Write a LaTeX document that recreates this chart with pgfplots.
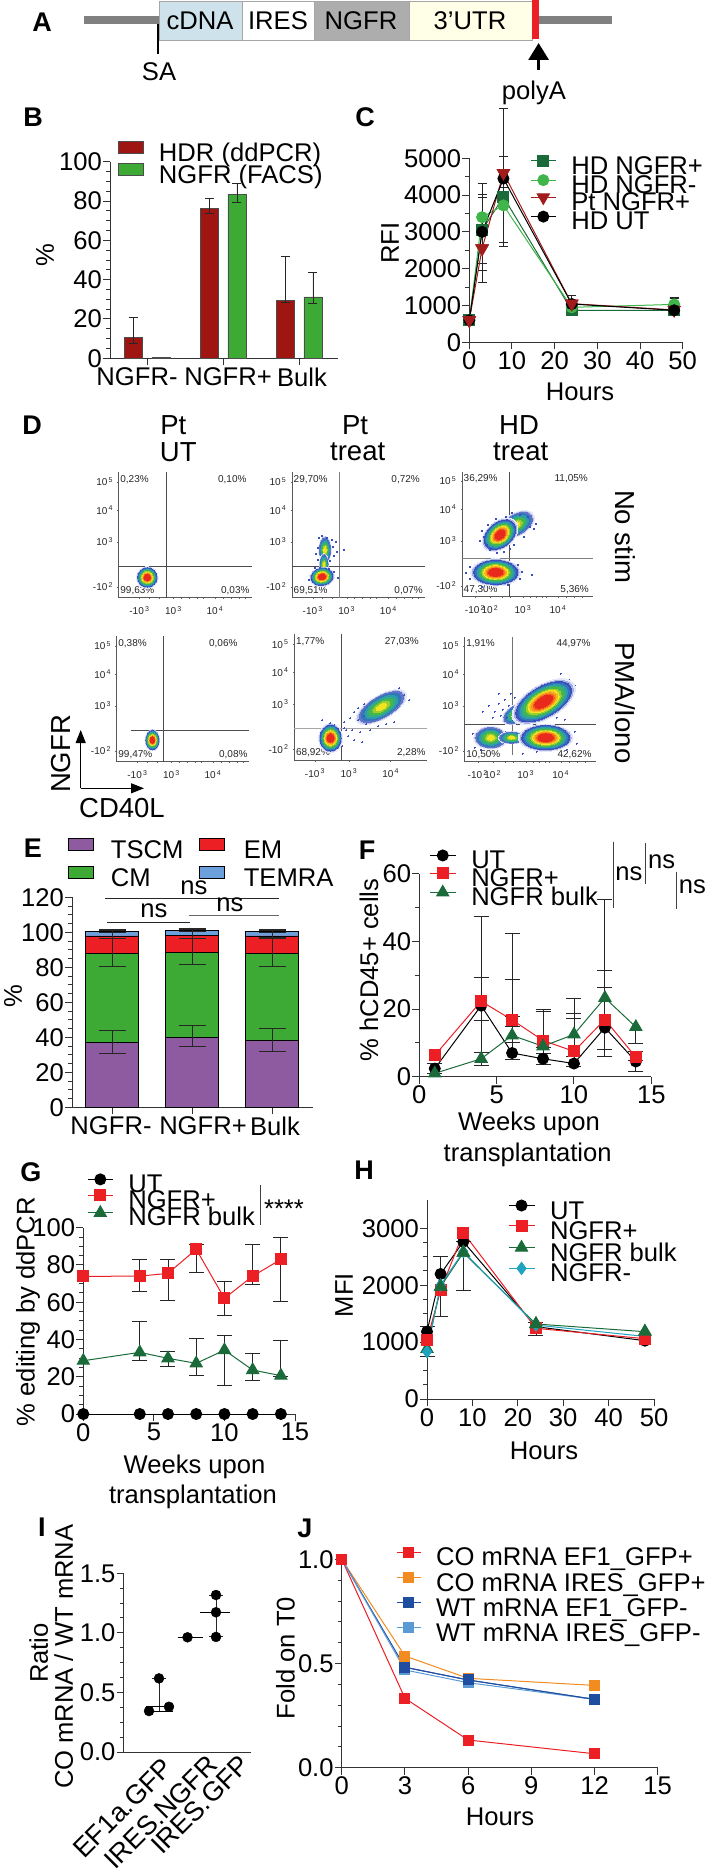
\documentclass[border=0pt]{standalone}
\usepackage{fontspec}
\setmainfont{Liberation Sans}
\usepackage{pgfplots}
\pgfplotsset{compat=1.18}
\usetikzlibrary{arrows.meta}

\definecolor{axc}{HTML}{333333}
\definecolor{hdr}{HTML}{9F1512}
\definecolor{fac}{HTML}{3DAA35}
\definecolor{dgr}{HTML}{1B6B3A}
\definecolor{lgr}{HTML}{3FB54A}
\definecolor{drd}{HTML}{A31C1C}
\definecolor{red1}{HTML}{EC1F25}
\definecolor{pur}{HTML}{8E5BA0}
\definecolor{blu}{HTML}{6CA0DC}
\definecolor{teal1}{HTML}{1FA3BF}
\definecolor{org}{HTML}{F28C21}
\definecolor{dbl}{HTML}{1F4EA1}
\definecolor{lbl}{HTML}{5B9BD5}
\definecolor{c0}{HTML}{E6EAF8}
\definecolor{c1}{HTML}{3A50BE}
\definecolor{c2}{HTML}{2A9CB0}
\definecolor{c3}{HTML}{45B84A}
\definecolor{c4}{HTML}{F2E41E}
\definecolor{c5}{HTML}{F7901E}
\definecolor{c6}{HTML}{E8291C}

\newcommand\fs{\fontsize{25.6}{28}\selectfont}
\newcommand\fb{\fontsize{27.5}{30}\selectfont}
\newcommand\flowf{\fontsize{10}{11}\selectfont}
\newcommand\lab[4][]{\node[inner sep=0pt,font=\fs,#1] at (#2pt,-#3pt) {#4};}
\newcommand\letter[3]{\node[inner sep=0pt,font=\fontsize{27}{28}\selectfont\bfseries] at (#1pt,-#2pt) {#3};}
\newcommand\ten[1]{10\textsuperscript{\,#1}}

\pgfplotsset{
  panel/.style={scale only axis, axis lines=left, axis line style={-,line width=1pt,draw=axc},
    clip=false, tick align=outside, major tick length=7pt, minor tick length=4pt,
    every tick/.style={line width=1pt,draw=axc}, minor tick style={line width=1pt,draw=axc},
    tick label style={font=\fs,inner sep=1pt},
    /pgf/number format/assume math mode=true, /pgf/number format/1000 sep={},
    x tick label style={yshift=-1pt},
    legend cell align=left},
  ebars/.style={error bars/y dir=both, error bars/y explicit,
    error bars/error bar style={line width=.9pt,draw=black!85},
    error bars/error mark options={rotate=90,mark size=#1,line width=.9pt,draw=black!85}},
  lgd/.style n args={4}{legend style={at={(#1)},anchor=north west,draw=none,fill=none,inner sep=0pt,
    font=\fs,row sep=#4,column sep=0pt,
    nodes={inner sep=0pt,text height=#2,text depth=#3},
    /tikz/column 1/.style={column sep=15pt}}},
  keyline/.style={legend image code/.code={
    \draw[mark repeat=2,mark phase=2,yshift=9pt,##1] plot coordinates {(0pt,0pt)(#1/2,0pt)(#1,0pt)};}},
  keybox/.style={legend image code/.code={
    \draw[yshift=9pt,##1] (0pt,-6pt) rectangle (25pt,6pt);}},
  sq/.style={color=#1,line width=1pt,mark=square*,mark size=5.5pt,mark options={fill=#1,draw=#1}},
  ci/.style={color=#1,line width=1pt,mark=*,mark size=5.5pt,mark options={fill=#1,draw=#1}},
  tr/.style={color=#1,line width=1pt,mark=triangle*,mark size=7pt,mark options={fill=#1,draw=#1}},
  td/.style={color=#1,line width=1pt,mark=triangle*,mark size=7pt,mark options={fill=#1,draw=#1,rotate=180}},
  di/.style={color=#1,line width=1pt,mark=diamond*,mark size=6pt,mark options={fill=#1,draw=#1}},
  flowax/.style={scale only axis, axis lines=left, axis line style={-,line width=.7pt,draw=black!65},
    clip=false, tick align=outside, major tick length=1.5pt, every tick/.style={line width=.4pt,draw=black!60},
    tick label style={font=\flowf,inner sep=1pt,text=black!85},
    x tick label style={yshift=-6pt}, y tick label style={xshift=-3pt}, minor tick length=1pt},
  gate/.style={draw=black!70,line width=.8pt,mark=none},
}

% one cell cluster: x, y, rx, ry, rotation, in pixels of the panel
\newcommand\lay[7]{\addplot[only marks,mark=*,mark size=1pt,forget plot,
  mark options={rotate=#5,xscale=#3*#6,yscale=#4*#6,line width=0pt,draw=#7,fill=#7}] coordinates {(#1,#2)};}
\newcommand\blob[5]{%
  \lay{#1}{#2}{#3}{#4}{#5}{1.14}{c0}%
  \lay{#1}{#2}{#3}{#4}{#5}{1.06}{c1!45!white}%
  \lay{#1}{#2}{#3}{#4}{#5}{1.0}{c1}%
  \lay{#1}{#2}{#3}{#4}{#5}{.92}{c1!50!c2}%
  \lay{#1}{#2}{#3}{#4}{#5}{.85}{c2}%
  \lay{#1}{#2}{#3}{#4}{#5}{.78}{c2!50!c3}%
  \lay{#1}{#2}{#3}{#4}{#5}{.71}{c3}%
  \lay{#1}{#2}{#3}{#4}{#5}{.63}{c3!50!c4}%
  \lay{#1}{#2}{#3}{#4}{#5}{.56}{c4}%
  \lay{#1}{#2}{#3}{#4}{#5}{.5}{c4!50!c5}%
  \lay{#1}{#2}{#3}{#4}{#5}{.44}{c5}%
  \lay{#1}{#2}{#3}{#4}{#5}{.38}{c5!50!c6}%
  \lay{#1}{#2}{#3}{#4}{#5}{.32}{c6}}
\newcommand\bloby[5]{%
  \lay{#1}{#2}{#3}{#4}{#5}{1.14}{c0}%
  \lay{#1}{#2}{#3}{#4}{#5}{1.06}{c1!35!white}%
  \lay{#1}{#2}{#3}{#4}{#5}{1.0}{c1!80!white}%
  \lay{#1}{#2}{#3}{#4}{#5}{.88}{c1!50!c2}%
  \lay{#1}{#2}{#3}{#4}{#5}{.76}{c2}%
  \lay{#1}{#2}{#3}{#4}{#5}{.64}{c2!50!c3}%
  \lay{#1}{#2}{#3}{#4}{#5}{.52}{c3}%
  \lay{#1}{#2}{#3}{#4}{#5}{.38}{c3!50!c4}%
  \lay{#1}{#2}{#3}{#4}{#5}{.24}{c4}}
\newcommand\qtext[6]{%
  \node[font=\flowf,inner sep=0pt,anchor=west,text=black!85] at (axis cs:1.5,118) {#1};
  \node[font=\flowf,inner sep=0pt,anchor=east,text=black!85] at (axis cs:#5,118) {#2};
  \node[font=\flowf,inner sep=0pt,anchor=west,text=black!85] at (axis cs:1.5,7.5) {#3};
  \node[font=\flowf,inner sep=0pt,anchor=east,text=black!85] at (axis cs:#6,7.5) {#4};}
\newcommand\speck[1]{\addplot[only marks,mark=*,mark size=.45pt,forget plot,color=c1,mark options={line width=0pt,draw=c1,fill=c1}] coordinates {#1};}

\begin{document}
\begin{tikzpicture}
\useasboundingbox (0pt,0pt) rectangle (709pt,-1876pt);

% ---- A: construct
\begin{scope}[x=1pt,y=-1pt]
\draw[line width=7.5pt,draw=black!50] (84,20) -- (159,20) (539,20) -- (612,20);
\draw[draw=black!35,line width=.8pt,fill=cyan!15!white!92!black] (159,1) rectangle (242,40.7);
\draw[draw=black!35,line width=.8pt,fill=white] (242,1) rectangle (314,40.7);
\draw[draw=black!35,line width=.8pt,fill=black!32] (314,1) rectangle (409,40.7);
\draw[draw=black!35,line width=.8pt,fill=yellow!10] (409,1) rectangle (532,40.7);
\fill[red1] (532,0) rectangle (539,39);
\draw[line width=1.6pt] (158,24) -- (158,54);
\draw[line width=3pt,-{Triangle[width=20pt,length=17pt]}] (538.6,70) -- (538.6,43);
\end{scope}
\lab{200}{21}{cDNA}\lab{278}{21}{IRES}\lab{361}{21}{NGFR}\lab{470}{21}{3’UTR}
\lab{159}{72}{SA}\lab{534}{93}{polyA}
\letter{42}{22}{A}\letter{33}{117}{B}\letter{365}{117}{C}\letter{32}{425}{D}\letter{33}{848}{E}
\letter{367}{850}{F}\letter{31}{1172}{G}\letter{364}{1170}{H}\letter{42}{1527}{I}\letter{305}{1528}{J}

% ---- B
\begin{axis}[panel,at={(110pt,-358.3pt)},anchor=south west,width=228pt,height=196.6pt,
  xmin=.513,xmax=3.513,ymin=0,ymax=100,ytick={0,20,...,100},minor y tick num=3,
  xtick={1,2,3},xticklabels={NGFR-\hspace*{20pt},\hspace*{10pt}NGFR+,\hspace*{6pt}Bulk},
  lgd={.035,1.105}{15pt}{6pt}{-4pt},keybox,ebars=4.5pt]
\addplot[ybar,bar width=18pt,bar shift=0pt,fill=hdr,draw=black!70,line width=.8pt] coordinates {
  (.816,10.5) += (0,10.3) -= (0,3)
  (1.816,76.3) += (0,5.2) -= (0,2.8)
  (2.816,29.3) += (0,22.7) -= (0,.8)};
\addplot[ybar,bar width=18pt,bar shift=0pt,fill=fac,draw=black!70,line width=.8pt] coordinates {
  (1.184,.5) (2.184,83.3) += (0,5.5) -= (0,3.8)
  (3.184,31.2) += (0,12.7) -= (0,3.5)};
\legend{HDR (ddPCR),NGFR (FACS)}
\end{axis}
\lab[rotate=90]{45}{255}{\%}

% ---- C
\begin{axis}[panel,at={(469.3pt,-342.3pt)},anchor=south west,width=213.4pt,height=184pt,
  xmin=0,xmax=50,ymin=0,ymax=5000,xtick={0,10,...,50},ytick={0,1000,...,5000},minor y tick num=1,
  lgd={.285,1.017}{14.5pt}{6pt}{-5.5pt},keyline=25pt,ebars=4.5pt]
\addplot[sq=dgr] coordinates {(0,600) (3,3050) += (0,970) -= (0,1090) (8,3950) += (0,1090) -= (0,1250)
  (24,870) += (0,200) -= (0,50) (48,870) += (0,330) -= (0,50)};
\addplot[ci=lgr] coordinates {(0,600) (3,3400) += (0,530) -= (0,1245) (8,3720) += (0,500) -= (0,1000)
  (24,950) += (0,200) -= (0,50) (48,1030) += (0,180) -= (0,50)};
\addplot[td=drd] coordinates {(0,600) (3,2550) += (0,1470) -= (0,930) (8,4600) += (0,440) -= (0,1880)
  (24,1050) += (0,216) -= (0,50) (48,880) += (0,300) -= (0,50)};
\addplot[ci=black] coordinates {(0,600) (3,3000) += (0,1320) -= (0,1380) (8,4450) += (0,1900) -= (0,1850)
  (24,1040) += (0,220) -= (0,50) (48,870) += (0,340) -= (0,50)};
\addplot[td=drd,only marks,forget plot] coordinates {(0,600)(3,2550)(8,4600)(24,1050)};
\legend{HD NGFR+,HD NGFR-,Pt NGFR+,HD UT}
\end{axis}
\lab[rotate=90]{390}{243}{RFI}\lab{580}{392}{Hours}

% ---- D: flow panels (axis units are picture pixels from the corner of each panel)
\lab[font=\fb]{173.3}{425}{Pt}\lab[font=\fb]{178.3}{452}{UT}
\lab[font=\fb]{355}{425}{Pt}\lab[font=\fb]{357.7}{452}{treat}
\lab[font=\fb]{519}{425}{HD}\lab[font=\fb]{520.7}{452}{treat}
\lab[font=\fb,rotate=-90]{625.7}{536.7}{No stim}
\lab[font=\fb,rotate=-90]{625.7}{703}{PMA/Iono}
\lab[font=\fb,rotate=90]{61}{754}{NGFR}\lab[font=\fb]{122}{808}{CD40L}
\begin{scope}[x=1pt,y=-1pt]
\draw[line width=1.1pt,-{Triangle[width=10pt,length=13pt]}] (80.7,788.3) -- (80.7,730);
\draw[line width=1.1pt,-{Triangle[width=10pt,length=13pt]}] (80.7,788.3) -- (144,788.3);
\end{scope}

\begin{axis}[flowax,at={(118.7pt,-597.7pt)},anchor=south west,width=133pt,height=126pt,
  xmin=0,xmax=133,ymin=0,ymax=126,xtick={20.7,54.7,96.3},xticklabels={-\ten{3},\ten{3},\ten{4}},
  ytick={11,56,87.7,116},yticklabels={-\ten{2},\ten{3},\ten{4},\ten{5}},
  minor xtick={30,40,62,70,78,84,104,112,120,126}]
\blob{28.6}{20.3}{9.6}{9.6}{0}
\addplot[gate] coordinates {(47.3,0)(47.3,126)};
\addplot[gate] coordinates {(0,31.7)(133,31.7)};
\qtext{0,23\%}{0,10\%}{99,63\%}{0,03\%}{128}{131}
\end{axis}

\begin{axis}[flowax,at={(292pt,-597.7pt)},anchor=south west,width=133pt,height=126pt,
  xmin=0,xmax=133,ymin=0,ymax=126,xtick={20.7,54.7,96.3},xticklabels={-\ten{3},\ten{3},\ten{4}},
  ytick={11,56,87.7,116},yticklabels={-\ten{2},\ten{3},\ten{4},\ten{5}},
  minor xtick={30,40,62,70,78,84,104,112,120,126}]
\bloby{33}{48}{5.5}{12}{0}
\bloby{32}{33}{4}{10}{0}
\blob{30}{21}{11}{8.5}{10}
\speck{(27,60)(30,62)(35,60)(40,58)(41,51)(26,50)(24,44)(42,42)(38,37)(26,38)(45,46)(44,56)(52,48)(28,30)(37,29)(23,30)(42,26)(17,18)(46,20)}
\addplot[gate,draw=black!50] coordinates {(47.3,0)(47.3,126)};
\addplot[gate] coordinates {(0,31.7)(133,31.7)};
\qtext{29,70\%}{0,72\%}{69,51\%}{0,07\%}{128}{131}
\end{axis}

\begin{axis}[flowax,at={(462pt,-596.7pt)},anchor=south west,width=131pt,height=124.4pt,
  xmin=0,xmax=131,ymin=0,ymax=124.4,xtick={13,28,61,96},xticklabels={-\ten{2},\ten{2},\ten{3},\ten{4}},
  ytick={11,56,87.7,116},yticklabels={-\ten{2},\ten{3},\ten{4},\ten{5}},
  minor xtick={40,48,68,74,80,84,104,112,120}]
\bloby{54}{72}{18}{10}{30}
\blob{38}{62}{18}{12}{40}
\blob{33.7}{24.3}{22}{12}{0}
\speck{(22,60)(25,52)(28,47)(35,44)(42,45)(48,48)(52,52)(62,60)(68,70)(72,68)(74,73)(66,80)(58,82)(50,84)(44,80)(34,78)(26,72)(18,56)(20,66)(4,24)(8,18)(8,30)(60,25)(58,18)(56,32)(20,10)(46,12)(70,22)}
\addplot[gate] coordinates {(47.7,0)(47.7,124.4)};
\addplot[gate,draw=black!50,line width=1.3pt] coordinates {(0,38)(131,38)};
\qtext{36,29\%}{11,05\%}{47,30\%}{5,36\%}{126}{127}
\end{axis}

\begin{axis}[flowax,at={(116.7pt,-761.7pt)},anchor=south west,width=132.3pt,height=125.7pt,
  xmin=0,xmax=132.3,ymin=0,ymax=125.7,xtick={20.7,54.7,96.3},xticklabels={-\ten{3},\ten{3},\ten{4}},
  ytick={11,56,87.7,116},yticklabels={-\ten{2},\ten{3},\ten{4},\ten{5}},
  minor xtick={30,40,62,70,78,84,104,112,120,126}]
\blob{35.7}{21.7}{6.5}{9.5}{0}
\addplot[gate] coordinates {(47,0)(47,125.7)};
\addplot[gate] coordinates {(14,31.4)(132.3,31.4)};
\qtext{0,38\%}{0,06\%}{99,47\%}{0,08\%}{121}{131}
\end{axis}

\begin{axis}[flowax,at={(294.3pt,-760pt)},anchor=south west,width=132.4pt,height=126pt,
  xmin=0,xmax=132.4,ymin=0,ymax=126,xtick={20.7,54.7,96.3},xticklabels={-\ten{3},\ten{3},\ten{4}},
  ytick={11,56,87.7,116},yticklabels={-\ten{2},\ten{3},\ten{4},\ten{5}},
  minor xtick={30,40,62,70,78,84,104,112,120,126}]
\bloby{87}{53}{25}{10.5}{30}
\blob{36.3}{22}{10.5}{13}{0}
\speck{(28,40)(33,34)(36,37)(40,35)(50,38)(56,42)(60,48)(64,40)(70,44)(50,32)(58,30)(66,28)(72,36)(54,24)(60,20)(68,18)(76,30)(84,34)(48,14)(52,30)(64,52)(70,56)(105,72)(110,65)(100,38)(92,36)(115,60)}
\addplot[gate] coordinates {(47.3,0)(47.3,126)};
\addplot[gate,draw=black!35,line width=1.2pt] coordinates {(0,31.3)(132.4,31.3)};
\qtext{1,77\%}{27,03\%}{68,92\%}{2,28\%}{124.7}{131.4}
\end{axis}

\begin{axis}[flowax,at={(464.7pt,-761.7pt)},anchor=south west,width=131pt,height=124.4pt,
  xmin=0,xmax=131,ymin=0,ymax=124.4,xtick={13,28,61,96},xticklabels={-\ten{2},\ten{2},\ten{3},\ten{4}},
  ytick={11,56,87.7,116},yticklabels={-\ten{2},\ten{3},\ten{4},\ten{5}},
  minor xtick={40,48,68,74,80,84,104,112,120}]
\bloby{52}{48}{14}{8}{30}
\speck{(30,50)(34,58)(38,52)(40,62)(44,56)(36,46)(42,44)(28,44)(46,68)(50,64)(34,68)(24,56)(18,50)(48,42)(54,40)(60,42)(96,88)(104,82)(110,76)(108,68)(92,44)(100,42)(110,30)(112,18)(102,12)(72,10)(58,8)(16,12)(8,28)(10,14)(40,30)}
\bloby{26}{24}{15}{10}{0}
\bloby{47}{24}{12}{5.5}{0}
\blob{79}{60}{31}{15}{30}
\blob{81}{24}{24}{12}{0}
\addplot[gate,draw=black!55] coordinates {(47.7,6.7)(47.7,124.4)};
\addplot[gate] coordinates {(0,37.7)(131,37.7)};
\qtext{1,91\%}{44,97\%}{10,50\%}{42,62\%}{126}{127}
\end{axis}

% ---- E
\begin{axis}[panel,at={(72pt,-1107.3pt)},anchor=south west,width=241pt,height=210pt,
  xmin=.5,xmax=3.5125,ymin=0,ymax=120,ytick={0,20,...,120},minor y tick num=3,
  xtick={1,2,3},xticklabels={NGFR-\hspace*{2pt},\hspace*{22pt}NGFR+,\hspace*{6pt}Bulk},
  ybar stacked,bar width=52.3pt,
  keybox,legend columns=2,transpose legend,
  legend style={at={(-.0166,1.281)},anchor=north west,draw=none,fill=none,inner sep=0pt,font=\fs,
    row sep=0pt,nodes={inner sep=0pt,text height=17pt,text depth=8pt},
    /tikz/column 1/.style={column sep=17pt},/tikz/column 2/.style={column sep=15.5pt},
    /tikz/column 3/.style={column sep=19pt}}]
\addplot[fill=pur,draw=black,line width=.8pt] coordinates {(1,37.1)(2,40)(3,38.3)};
\addplot[fill=fac,draw=black,line width=.8pt] coordinates {(1,50.9)(2,48.4)(3,49.7)};
\addplot[fill=red1,draw=black,line width=.8pt] coordinates {(1,9.9)(2,9.9)(3,9.9)};
\addplot[fill=blu,draw=black,line width=.8pt] coordinates {(1,2.7)(2,2.7)(3,2.7)};
\legend{TSCM,CM,EM,TEMRA}
\end{axis}
\begin{axis}[scale only axis,hide axis,clip=false,at={(72pt,-1107.3pt)},anchor=south west,width=241pt,height=210pt,
  xmin=.5,xmax=3.5125,ymin=0,ymax=120,ebars=13.5pt]
\addplot[draw=none] coordinates {(1,37.1) += (0,6.7) -= (0,6.1) (2,40) += (0,6.7) -= (0,5.5) (3,38.3) += (0,6.7) -= (0,6.3)};
\addplot[draw=none] coordinates {(1,88) += (0,8.6) -= (0,7.6) (2,88.4) += (0,8.3) -= (0,7) (3,88) += (0,8.6) -= (0,7.5)};
\addplot[draw=none] coordinates {(1,97.9) += (0,3.8) -= (0,1.3) (2,98.3) += (0,3.7) -= (0,1.6) (3,97.9) += (0,3.6) -= (0,1)};
\addplot[draw=none] coordinates {(1,100.6) += (0,.6) -= (0,.6) (2,101) += (0,.6) -= (0,.6) (3,100.6) += (0,.6) -= (0,.6)};
\end{axis}
\lab[rotate=90]{13}{996}{\%}
\begin{scope}[x=1pt,y=-1pt,line width=.9pt,draw=black!85]
\draw (105,898) -- (278.7,898);
\draw (107,922.3) -- (190,922.3);
\draw[draw=black!60] (188.7,915) -- (278.7,915);
\end{scope}
\lab{194}{888}{ns}\lab{154}{911}{ns}\lab{230}{905}{ns}

% ---- F
\begin{axis}[panel,at={(419.3pt,-1076.7pt)},anchor=south west,width=232pt,height=203pt,
  xmin=0,xmax=15,ymin=0,ymax=60,xtick={0,5,10,15},ytick={0,20,40,60},minor y tick num=1,
  lgd={.042,1.118}{14.5pt}{6pt}{-7pt},keyline=26pt,ebars=7.5pt]
\addplot[ci=black] coordinates {(1,2.4) += (0,1.5) -= (0,1.5) (4,21) += (0,8.3) -= (0,17.8) (6,7) += (0,21.6) -= (0,2)
  (8,5.3) += (0,14.1) -= (0,1.7) (10,3.9) += (0,13.3) -= (0,1) (12,14.5) += (0,11.9) -= (0,6.4) (14,4.5) += (0,2.9) -= (0,3)};
\addplot[sq=red1] coordinates {(1,6.3) (4,22.3) += (0,25.2) -= (0,5.6) (6,16.8) += (0,25.6) -= (0,2)
  (8,10.7) += (0,9.3) -= (0,2) (10,7.5) += (0,11.2) -= (0,1.5) (12,16.9) += (0,14.6) -= (0,8.9) (14,5.8) += (0,1.6) -= (0,1)};
\addplot[tr=dgr] coordinates {(1,1) (4,5.3) += (0,1.9) -= (0,2.1) (6,12.2) += (0,5.5) -= (0,2)
  (8,9) += (0,10.4) -= (0,2) (10,12.5) += (0,10.5) -= (0,6.5) (12,23.3) += (0,29.2) -= (0,17.2) (14,14.7) -= (0,5)};
\legend{UT,NGFR+,NGFR bulk}
\end{axis}
\lab[rotate=90]{369}{970}{\% hCD45+ cells}
\lab{529}{1124}{Weeks upon}\lab{527.7}{1155}{transplantation}
\begin{scope}[x=1pt,y=-1pt,line width=.9pt,draw=black!75]
\draw (613.3,841.7) -- (613.3,908.3);
\draw (645.7,843) -- (645.7,884);
\draw (676,871.7) -- (676,909);
\end{scope}
\lab{629}{874}{ns}\lab{661.7}{862}{ns}\lab{692.3}{887}{ns}

% ---- G
\begin{axis}[panel,at={(83.3pt,-1414pt)},anchor=south west,width=211.7pt,height=186.3pt,
  xmin=0,xmax=15,ymin=0,ymax=100,xtick={0,5,10,15},ytick={0,20,...,100},minor y tick num=3,
  lgd={.018,1.29}{13pt}{5pt}{-7.5pt},keyline=25pt,ebars=7.5pt]
\addplot[ci=black] coordinates {(0,0)(4,0)(6,0)(8,0)(10,0)(12,0)(14,0)};
\addplot[sq=red1] coordinates {(0,73.9) (4,74) += (0,9) -= (0,8.3) (6,75.5) += (0,7.5) -= (0,14.3) (8,88.4) += (0,2.6) -= (0,12.4)
  (10,62.1) += (0,9.3) -= (0,9.1) (12,74) += (0,17) -= (0,4.2) (14,83) += (0,12) -= (0,22.5)};
\addplot[tr=dgr] coordinates {(0,28.6) (4,33.1) += (0,16.6) -= (0,4.1) (6,29.9) += (0,3.7) -= (0,4.5) (8,27.2) += (0,13.4) -= (0,6.4)
  (10,34.3) += (0,7.9) -= (0,18.9) (12,23.6) += (0,9.1) -= (0,5.7) (14,20.6) += (0,18.8) -= (0,.5)};
\legend{UT,NGFR+,NGFR bulk}
\end{axis}
\lab[rotate=90]{28}{1311.7}{\% editing by ddPCR}
\lab{194.5}{1466.7}{Weeks upon}\lab{193}{1497}{transplantation}
\draw[line width=.9pt,draw=black!75] (260pt,-1185pt) -- (260pt,-1225pt);
\lab{284}{1209}{****}

% ---- H
\begin{axis}[panel,at={(427pt,-1399pt)},anchor=south west,width=227pt,height=199.2pt,
  xmin=0,xmax=50,ymin=0,ymax=3500,xtick={0,10,...,50},ytick={0,1000,2000,3000},minor y tick num=3,
  lgd={.356,1.0}{15.5pt}{6.5pt}{-5.2pt},keyline=26pt,ebars=7.5pt]
\addplot[ci=black] coordinates {(0,1183) += (0,100) -= (0,440) (3,2197) += (0,300) -= (0,750) (8,2765)
  (24,1271) += (0,80) -= (0,160) (48,1025)};
\addplot[sq=red1] coordinates {(0,1037) (3,1910) (8,2923) (24,1242) (48,1060)};
\addplot[tr=dgr] coordinates {(0,879) (3,1974) (8,2572) += (0,200) -= (0,656) (24,1318) (48,1183)};
\addplot[di=teal1] coordinates {(0,832) (3,2003) (8,2590) (24,1300) (48,1100)};
\addplot[sq=red1,only marks,forget plot] coordinates {(0,1037)(8,2923)(48,1060)};
\addplot[tr=dgr,only marks,forget plot] coordinates {(3,1974)(8,2572)(24,1318)(48,1183)};
\legend{UT,NGFR+,NGFR bulk,NGFR-}
\end{axis}
\lab[rotate=90]{344}{1295}{MFI}\lab{544}{1451}{Hours}

% ---- I
\begin{axis}[panel,at={(123.6pt,-1752pt)},anchor=south west,width=127.8pt,height=178.7pt,
  xmin=-.242,xmax=4.242,ymin=0,ymax=1.5,ytick={0,.5,1,1.5},minor y tick num=3,
  yticklabel style={/pgf/number format/fixed,/pgf/number format/fixed zerofill,/pgf/number format/precision=1},
  xtick=\empty,ebars=7pt]
\addplot[only marks,mark=*,mark size=5pt,color=black] coordinates {(1,.618)(1.35,.38)(.65,.344)(2,.963)(3,1.318)(3,1.173)(3,.966)};
\addplot[draw=none,forget plot] coordinates {(1,.38) += (0,.238) -= (0,.036)};
\addplot[draw=none,forget plot] coordinates {(3,1.173) += (0,.145) -= (0,.207)};
\addplot[black,line width=1pt,forget plot] coordinates {(.55,.38)(1.5,.38)};
\addplot[black,line width=1pt,forget plot] coordinates {(.6,.344)(1.5,.344)};
\addplot[black,line width=1pt,forget plot] coordinates {(1.65,.963)(2.55,.963)};
\addplot[black,line width=1pt,forget plot] coordinates {(2.45,1.173)(3.5,1.173)};
\end{axis}
\lab[rotate=90]{38.6}{1653}{Ratio}\lab[rotate=90]{63.6}{1656.7}{CO mRNA / WT mRNA}
\lab[font=\fontsize{27}{29}\selectfont,rotate=45,anchor=east]{168}{1763}{EF1a.GFP}
\lab[font=\fontsize{27}{29}\selectfont,rotate=45,anchor=east]{213}{1760}{IRES.NGFR}
\lab[font=\fontsize{27}{29}\selectfont,rotate=45,anchor=east]{245}{1760}{IRES.GFP}

% ---- J
\begin{axis}[panel,at={(341.8pt,-1767.7pt)},anchor=south west,width=315.9pt,height=208.4pt,
  xmin=0,xmax=15,ymin=0,ymax=1,xtick={0,3,...,15},ytick={0,.5,1},minor y tick num=4,
  yticklabel style={/pgf/number format/fixed,/pgf/number format/fixed zerofill,/pgf/number format/precision=1},
  lgd={.171,1.06}{18.5pt}{8.8pt}{-2.5pt},keyline=24pt]
\addplot[sq=red1,mark size=5pt] coordinates {(0,1)(3,.333)(6,.133)(12,.067)};
\addplot[sq=org,mark size=5pt] coordinates {(0,1)(3,.536)(6,.429)(12,.395)};
\addplot[sq=dbl,mark size=5pt] coordinates {(0,1)(3,.482)(6,.421)(12,.328)};
\addplot[sq=lbl,mark size=5pt] coordinates {(0,1)(3,.469)(6,.408)(12,.328)};
\addplot[sq=dbl,mark size=5pt,forget plot] coordinates {(3,.482)(6,.421)(12,.328)};
\addplot[sq=red1,mark size=5pt,forget plot] coordinates {(0,1)};
\legend{CO mRNA EF1\_GFP+,CO mRNA IRES\_GFP+,WT mRNA EF1\_GFP-,WT mRNA IRES\_GFP-}
\end{axis}
\lab[rotate=90]{285.5}{1658}{Fold on T0}\lab{500}{1817}{Hours}
\end{tikzpicture}
\end{document}
